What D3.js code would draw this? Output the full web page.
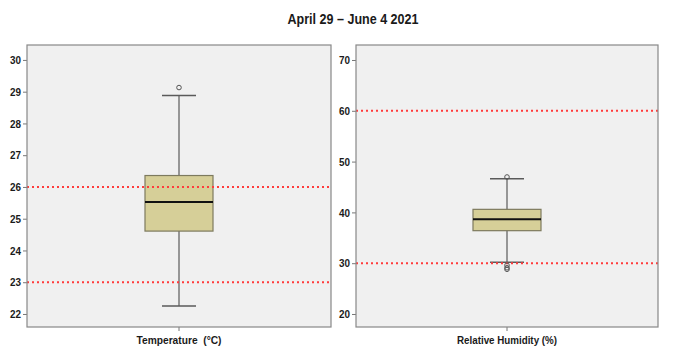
<!DOCTYPE html>
<html>
<head>
<meta charset="utf-8">
<script src="https://cdn.jsdelivr.net/npm/d3@7"></script>
<style>
  body { margin: 0; background: #fff; }
  text { font-family: "Liberation Sans", Arial, sans-serif; white-space: pre; }
</style>
</head>
<body>
<script>
const w = 673;
const h = 359;

// chart data
const title = "April 29 \u2013 June 4 2021";
const variables = ["Temperature  (\u00b0C)", "Relative Humidity (%)"];
const yTicks = [
  [22, 23, 24, 25, 26, 27, 28, 29, 30],
  [20, 30, 40, 50, 60, 70],
];
const yDomains = [
  [21.59, 30.47],
  [17.44, 72.95],
];
// [lower whisker, Q1, median, Q3, upper whisker]
const boxStats = [
  [22.25, 24.61, 25.53, 26.36, 28.88],
  [30.17, 36.4, 38.64, 40.6, 46.64],
];
const outliers = [
  [29.13],
  [46.97, 29.6, 29.1, 28.8],
];
const refLines = [
  [23, 26],
  [30, 60],
];

const panels = [
  { x0: 27, x1: 331, labelW: 85 },
  { x0: 356, x1: 658, labelW: 100 },
];
const plotTop = 45;
const plotBottom = 327;

const svg = d3.select("body").append("svg").attr("width", w).attr("height", h);

svg
  .append("text")
  .attr("x", 353)
  .attr("y", 24)
  .attr("text-anchor", "middle")
  .attr("font-size", 14)
  .attr("font-weight", "bold")
  .attr("fill", "#1a1a1a")
  .attr("textLength", 131)
  .attr("lengthAdjust", "spacingAndGlyphs")
  .text(title);

panels.forEach((p, i) => {
  const y = d3.scaleLinear().domain(yDomains[i]).range([plotBottom, plotTop]);
  const x = d3
    .scaleBand()
    .domain([variables[i]])
    .range([p.x0, p.x1]);
  const cx = x(variables[i]) + x.bandwidth() / 2;
  const g = svg.append("g");

  // panel background
  g.append("rect")
    .attr("x", p.x0)
    .attr("y", plotTop)
    .attr("width", p.x1 - p.x0)
    .attr("height", plotBottom - plotTop)
    .attr("fill", "#f0f0f0");

  // y axis
  const yAxis = g
    .append("g")
    .attr("transform", `translate(${p.x0},0)`)
    .call(d3.axisLeft(y).tickValues(yTicks[i]).tickSize(4).tickPadding(2));
  yAxis.select(".domain").remove();
  yAxis.selectAll("line").attr("stroke", "#777");
  yAxis
    .selectAll("text")
    .attr("font-size", 11.5)
    .attr("font-weight", "bold")
    .attr("fill", "#1a1a1a")
    .attr("textLength", 11)
    .attr("lengthAdjust", "spacingAndGlyphs")
    .attr("font-family", "Liberation Sans, Arial, sans-serif");

  // x axis
  const xAxis = g
    .append("g")
    .attr("transform", `translate(0,${plotBottom})`)
    .call(d3.axisBottom(x).tickSize(4).tickPadding(5));
  xAxis.select(".domain").remove();
  xAxis.selectAll("line").attr("stroke", "#777");
  xAxis
    .selectAll("text")
    .attr("font-size", 11.5)
    .attr("font-weight", "bold")
    .attr("fill", "#1a1a1a")
    .attr("textLength", p.labelW)
    .attr("lengthAdjust", "spacingAndGlyphs")
    .attr("font-family", "Liberation Sans, Arial, sans-serif");

  // box plot
  const [lo, q1, med, q3, hi] = boxStats[i];
  const bw = 68;
  const cap = 34;

  g.append("line")
    .attr("x1", cx)
    .attr("x2", cx)
    .attr("y1", y(hi))
    .attr("y2", y(lo))
    .attr("stroke", "#5a5a5a")
    .attr("stroke-width", 1.2);
  [lo, hi].forEach((v) => {
    g.append("line")
      .attr("x1", cx - cap / 2)
      .attr("x2", cx + cap / 2)
      .attr("y1", y(v))
      .attr("y2", y(v))
      .attr("stroke", "#5a5a5a")
      .attr("stroke-width", 1.5);
  });
  g.append("rect")
    .attr("x", cx - bw / 2)
    .attr("y", y(q3))
    .attr("width", bw)
    .attr("height", y(q1) - y(q3))
    .attr("fill", "#d6cf98")
    .attr("stroke", "#7d7a5e")
    .attr("stroke-width", 1.2);
  g.append("line")
    .attr("x1", cx - bw / 2)
    .attr("x2", cx + bw / 2)
    .attr("y1", y(med))
    .attr("y2", y(med))
    .attr("stroke", "#111")
    .attr("stroke-width", 2);

  // reference lines
  refLines[i].forEach((v) => {
    g.append("line")
      .attr("x1", p.x0)
      .attr("x2", p.x1)
      .attr("y1", y(v))
      .attr("y2", y(v))
      .attr("stroke", "#ff3b3b")
      .attr("stroke-width", 2)
      .attr("stroke-dasharray", "2,3");
  });

  g.selectAll(".out")
    .data(outliers[i])
    .join("circle")
    .attr("cx", cx)
    .attr("cy", (d) => y(d))
    .attr("r", 2.3)
    .attr("fill", "none")
    .attr("stroke", "#555")
    .attr("stroke-width", 1);

  // frame
  g.append("rect")
    .attr("x", p.x0)
    .attr("y", plotTop)
    .attr("width", p.x1 - p.x0)
    .attr("height", plotBottom - plotTop)
    .attr("fill", "none")
    .attr("stroke", "#888")
    .attr("stroke-width", 1.2);
});
</script>
</body>
</html>
